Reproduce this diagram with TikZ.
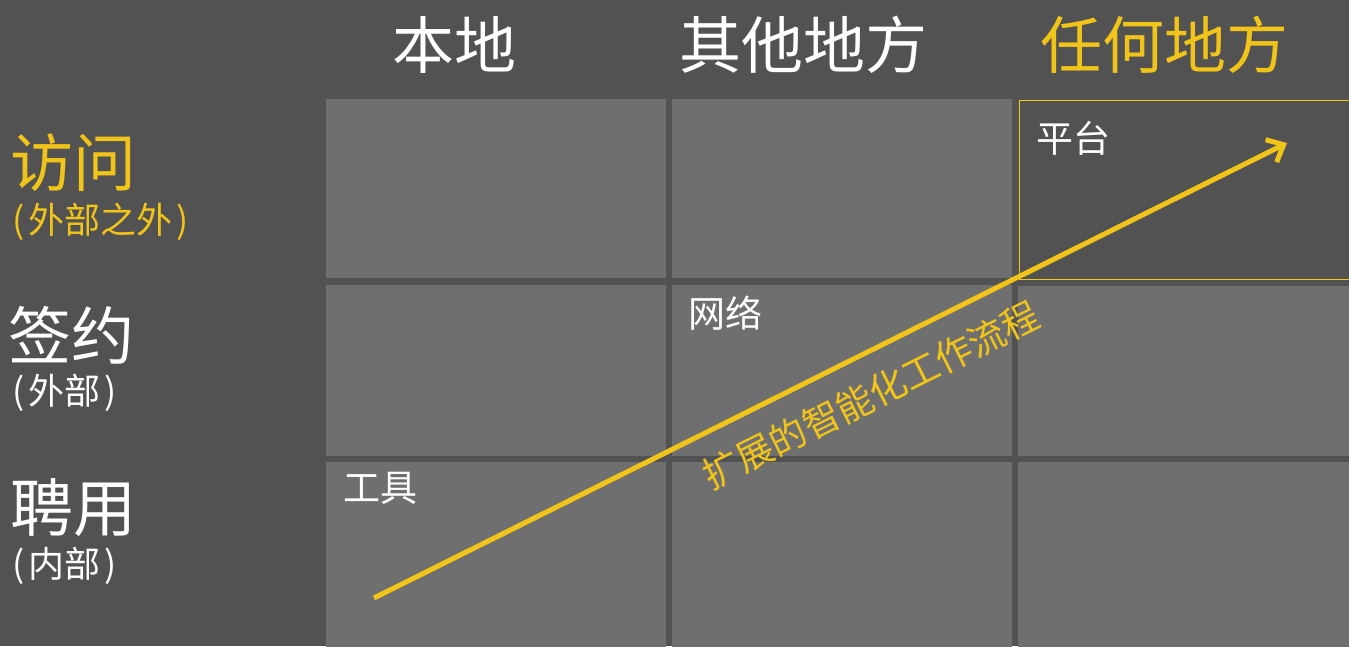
\documentclass[tikz,border=0pt]{standalone}
\usepackage{fontspec}
\setmainfont{Noto Sans CJK SC}
\usetikzlibrary{arrows.meta}
\definecolor{bgc}{HTML}{525252}
\definecolor{cellc}{HTML}{6F6F6F}
\definecolor{gold}{HTML}{F1C419}
\begin{document}
\begin{tikzpicture}[x=1pt,y=-1pt,
  cell/.style={fill=cellc,draw=none,anchor=north west,inner sep=0pt,minimum width=340pt},
  hdr/.style={text=white,font=\fontsize{62}{66}\selectfont,inner sep=0pt},
  rowlab/.style={anchor=west,inner sep=0pt,text=white,font=\fontsize{63}{66}\selectfont},
  sublab/.style={anchor=west,inner sep=0pt,text=white,font=\fontsize{36}{40}\selectfont},
  celllab/.style={anchor=west,inner sep=0pt,text=white,font=\fontsize{37}{40}\selectfont},
  flow/.style={draw=gold,line width=5pt,-{Straight Barb[length=14pt,width=25pt]}}]
\fill[bgc] (0,0) rectangle (1349,646);
\useasboundingbox (0,0) rectangle (1349,646);
% cells
\node[cell,minimum height=179pt] (c11) at (326,99) {};
\node[cell,minimum height=179pt] (c12) at (672,99) {};
\node[cell,minimum height=179pt,minimum width=340pt,fill=bgc,draw=gold,line width=1.2pt] (c13) at (1019,99.5) {};
\node[cell,minimum height=171pt] (c21) at (326,285) {};
\node[cell,minimum height=171pt] (c22) at (672,285) {};
\node[cell,minimum height=170pt] (c23) at (1018,286) {};
\node[cell,minimum height=190pt] (c31) at (326,462) {};
\node[cell,minimum height=190pt] (c32) at (672,462) {};
\node[cell,minimum height=190pt] (c33) at (1018,462) {};
% headers
\node[hdr] (h1) at (454,45) {本地};
\node[hdr] (h2) at (803,45) {其他地方};
\node[hdr,text=gold] (h3) at (1164,45) {任何地方};
% row labels
\node[rowlab,text=gold] (r1) at (10,163) {访问};
\node[sublab,text=gold] (s1) at (12,222) {(\hspace{4pt}外部之外\hspace{4pt})};
\node[rowlab] (r2) at (8,335) {签约};
\node[sublab] (s2) at (12,393) {(\hspace{4pt}外部\hspace{4pt})};
\node[rowlab] (r3) at (10,508) {聘用};
\node[sublab] (s3) at (12,566) {(\hspace{4pt}内部\hspace{4pt})};
% cell labels
\node[celllab] (l1) at (1036,138) {平台};
\node[celllab] (l2) at (688,313) {网络};
\node[celllab] (l3) at (343,488) {工具};
% arrow
\coordinate (a0) at (374,598);
\coordinate (a1) at (1287,143);
\draw[flow] (a0) -- (a1);
\node[text=gold,font=\fontsize{37}{40}\selectfont,rotate=26.5,inner sep=0pt] (flowlab) at (871,395) {扩展的智能化工作流程};
\end{tikzpicture}
\end{document}
